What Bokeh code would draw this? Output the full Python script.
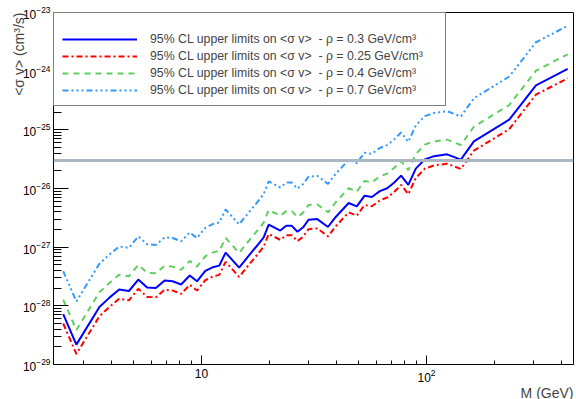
from bokeh.plotting import figure
from bokeh.models import (FixedTicker, LogTickFormatter, Span, Title, Legend, LegendItem)
from bokeh.embed import file_html
from bokeh.resources import INLINE

# Dark-matter mass (GeV)
mass = [2.43, 2.78, 3.52, 3.90, 4.31, 4.76, 5.24, 5.73, 6.27, 6.86, 7.44, 8.12, 8.87, 9.55,
        10.4, 11.2, 12.0, 12.8, 14.7, 16.2, 17.9, 18.9, 19.9, 22.4, 23.8, 25.2, 26.7, 28.3,
        29.9, 32.7, 36.5, 39.5, 45.1, 49.0, 53.0, 57.2, 62.0, 66.9, 71.7, 77.1, 83.0, 89.6,
        98.3, 108.0, 123.5, 142.1, 162.4, 233.2, 306.5, 424.2]

# 95% CL upper limits on <sigma v> (cm^3/s)
limit_rho_03 = [7.2e-29, 2.18e-29, 9.57e-29, 1.38e-28, 1.90e-28, 1.79e-28, 2.81e-28, 2.05e-28,
                2.01e-28, 2.70e-28, 2.62e-28, 2.31e-28, 3.28e-28, 2.62e-28, 3.93e-28, 4.54e-28,
                4.85e-28, 8.09e-28, 4.49e-28, 7.13e-28, 1.13e-27, 1.47e-27, 2.42e-27, 1.92e-27,
                2.31e-27, 2.31e-27, 1.83e-27, 2.18e-27, 2.93e-27, 3.01e-27, 2.21e-27, 3.27e-27,
                5.65e-27, 4.96e-27, 7.50e-27, 7.16e-27, 9.02e-27, 1.01e-26, 1.25e-26, 1.66e-26,
                1.15e-26, 2.18e-26, 3.14e-26, 3.56e-26, 3.82e-26, 3.10e-26, 6.35e-26, 1.49e-25,
                5.71e-25, 1.09e-24]
limit_rho_025 = [5.0e-29, 1.51e-29, 6.65e-29, 9.58e-29, 1.32e-28, 1.24e-28, 1.95e-28, 1.42e-28,
                 1.40e-28, 1.88e-28, 1.82e-28, 1.60e-28, 2.28e-28, 1.82e-28, 2.73e-28, 3.15e-28,
                 3.37e-28, 5.62e-28, 3.12e-28, 4.95e-28, 7.85e-28, 1.02e-27, 1.68e-27, 1.33e-27,
                 1.60e-27, 1.60e-27, 1.27e-27, 1.51e-27, 2.03e-27, 2.09e-27, 1.53e-27, 2.27e-27,
                 3.92e-27, 3.44e-27, 5.21e-27, 4.97e-27, 6.26e-27, 7.01e-27, 8.68e-27, 1.15e-26,
                 7.99e-27, 1.51e-26, 2.18e-26, 2.47e-26, 2.65e-26, 2.15e-26, 4.41e-26, 1.03e-25,
                 3.97e-25, 7.57e-25]
limit_rho_04 = [1.28e-28, 3.88e-29, 1.70e-28, 2.46e-28, 3.38e-28, 3.19e-28, 5.00e-28, 3.65e-28,
                3.58e-28, 4.81e-28, 4.66e-28, 4.11e-28, 5.84e-28, 4.66e-28, 7.00e-28, 8.08e-28,
                8.63e-28, 1.44e-27, 7.99e-28, 1.27e-27, 2.01e-27, 2.62e-27, 4.31e-27, 3.42e-27,
                4.11e-27, 4.11e-27, 3.26e-27, 3.88e-27, 5.22e-27, 5.36e-27, 3.93e-27, 5.82e-27,
                1.01e-26, 8.83e-27, 1.34e-26, 1.27e-26, 1.61e-26, 1.80e-26, 2.23e-26, 2.95e-26,
                2.05e-26, 3.88e-26, 5.59e-26, 6.34e-26, 6.80e-26, 5.52e-26, 1.13e-25, 2.65e-25,
                1.02e-24, 1.94e-24]
limit_rho_07 = [3.92e-28, 1.19e-28, 5.21e-28, 7.51e-28, 1.03e-27, 9.74e-28, 1.53e-27, 1.12e-27,
                1.09e-27, 1.47e-27, 1.43e-27, 1.26e-27, 1.78e-27, 1.43e-27, 2.14e-27, 2.47e-27,
                2.64e-27, 4.40e-27, 2.44e-27, 3.88e-27, 6.15e-27, 8.00e-27, 1.32e-26, 1.04e-26,
                1.26e-26, 1.26e-26, 9.96e-27, 1.19e-26, 1.59e-26, 1.64e-26, 1.20e-26, 1.78e-26,
                3.07e-26, 2.70e-26, 4.08e-26, 3.90e-26, 4.91e-26, 5.49e-26, 6.80e-26, 9.03e-26,
                6.26e-26, 1.19e-25, 1.71e-25, 1.94e-25, 2.08e-25, 1.69e-25, 3.45e-25, 8.11e-25,
                3.11e-24, 5.93e-24]

thermal_relic = 3e-26

series_labels = [
    "95% CL upper limits on <σ v>  - ρ = 0.3 GeV/cm³",
    "95% CL upper limits on <σ v>  - ρ = 0.25 GeV/cm³",
    "95% CL upper limits on <σ v>  - ρ = 0.4 GeV/cm³",
    "95% CL upper limits on <σ v>  - ρ = 0.7 GeV/cm³",
]

x_major = [10, 100]
x_minor = [3, 4, 5, 6, 7, 8, 9, 20, 30, 40, 50, 60, 70, 80, 90, 200, 300, 400]
y_major = [10.0 ** e for e in range(-29, -22)]
y_minor = [k * 10.0 ** e for e in range(-29, -23) for k in range(2, 10)]

FONT = "Liberation Sans"

p = figure(width=576, height=399, x_axis_type="log", y_axis_type="log",
           x_range=(2.2, 450), y_range=(1e-29, 1e-23),
           output_backend="svg", toolbar_location=None,
           min_border_left=53, min_border_right=3, min_border_top=12, min_border_bottom=35)
p.background_fill_color = "white"
p.border_fill_color = "white"
p.outline_line_color = "black"
p.outline_line_width = 1
p.xgrid.visible = False
p.ygrid.visible = False

# axes
p.xaxis.ticker = FixedTicker(ticks=x_major, minor_ticks=x_minor)
p.xaxis.formatter = LogTickFormatter(min_exponent=2)
p.yaxis.ticker = FixedTicker(ticks=y_major, minor_ticks=y_minor)
p.yaxis.formatter = LogTickFormatter()
for ax in (p.xaxis, p.yaxis):
    ax.major_tick_out = 0
    ax.minor_tick_out = 0
    ax.axis_line_color = "black"
    ax.major_tick_line_color = "black"
    ax.minor_tick_line_color = "black"
    ax.major_label_text_font = FONT
    ax.major_label_text_font_size = "12px"
    ax.major_label_text_color = "black"
p.xaxis.major_tick_in = 9
p.xaxis.minor_tick_in = 4
p.xaxis.major_label_standoff = 4
p.yaxis.major_tick_in = 15
p.yaxis.minor_tick_in = 8
p.yaxis.major_label_standoff = 3

# thermal relic line
p.add_layout(Span(location=thermal_relic, dimension="width",
                  line_color="#aab6c2", line_width=3))

r_03 = p.line(mass, limit_rho_03, line_color="#0000ff", line_width=2)
r_025 = p.line(mass, limit_rho_025, line_color="#ff0000", line_width=2, line_dash="6 3 2 3")
r_04 = p.line(mass, limit_rho_04, line_color="#5fcf5f", line_width=2, line_dash="6 5")
r_07 = p.line(mass, limit_rho_07, line_color="#3399ff", line_width=2,
              line_dash="6 3 2 3 2 3 2 3")

legend = Legend(items=[LegendItem(label=series_labels[0], renderers=[r_03]),
                       LegendItem(label=series_labels[1], renderers=[r_025]),
                       LegendItem(label=series_labels[2], renderers=[r_04]),
                       LegendItem(label=series_labels[3], renderers=[r_07])],
                location="top_left", margin=0, padding=8, spacing=3,
                glyph_width=75, glyph_height=14, label_height=14, label_standoff=13,
                label_width=287,
                label_text_font=FONT, label_text_font_size="12.3px",
                border_line_color="black", border_line_width=1,
                background_fill_color="white", background_fill_alpha=1.0,
                title=" ", title_text_font_size="8px", title_standoff=2)
p.add_layout(legend)

# axis titles (ROOT style: aligned to the axis ends)
p.add_layout(Title(text="M (GeV)", align="right", text_font=FONT, text_font_size="14px",
                   text_font_style="normal", standoff=-4, offset=0), "below")
p.add_layout(Title(text="<σ v> (cm³/s)", align="right", text_font=FONT, text_font_size="14px",
                   text_font_style="normal", standoff=-14, offset=0), "left")

open("out.html", "w").write(file_html(p, INLINE))
